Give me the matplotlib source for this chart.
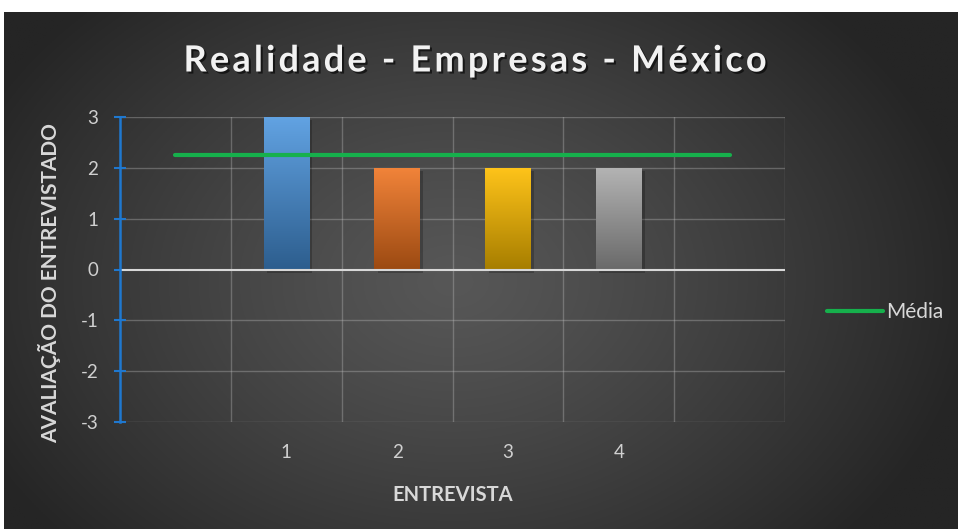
import numpy as np
import matplotlib
matplotlib.use("Agg")
import matplotlib.pyplot as plt
import matplotlib.patheffects as pe
from matplotlib.colors import LinearSegmentedColormap
from matplotlib.font_manager import FontProperties
from matplotlib.path import Path
from matplotlib.textpath import text_to_path

# ---- data ----
categorias = ["", "1", "2", "3", "4", ""]
entrevistas = [1, 2, 3, 4]
avaliacoes = [3, 2, 2, 2]
media = [2.25, 2.25, 2.25, 2.25, 2.25, 2.25]
titulo = "Realidade - Empresas - México"
ylabel = "AVALIAÇÃO DO ENTREVISTADO"
xlabel = "ENTREVISTA"

bar_tops = ["#62a3e3", "#f2843a", "#ffc41a", "#b4b4b4"]
bar_bots = ["#2d5e8e", "#9c4a12", "#a77e00", "#6a6a6a"]

plt.rcParams['font.family'] = ['Lato', 'DejaVu Sans']
plt.rcParams['axes.unicode_minus'] = False

W, H = 958, 529
DPI = 100
fig = plt.figure(figsize=(W / DPI, H / DPI), dpi=DPI, facecolor="white")


class Tracking(pe.AbstractPathEffect):
    """Adds letter spacing to a text path, then applies inner effects."""

    def __init__(self, text, prop, spacing_px, inner):
        super().__init__()
        self.inner = inner
        self.ok = True
        try:
            font = text_to_path._get_font(prop)
            info, _, _ = text_to_path.get_glyphs_with_font(font, text)
            self.xpos = np.array([g[1] for g in info], dtype=float)
            fs_px = prop.get_size_in_points() * DPI / 72.0
            self.sp = spacing_px * text_to_path.FONT_SCALE / fs_px
        except Exception:
            self.ok = False

    def draw_path(self, renderer, gc, tpath, affine, rgbFace=None):
        path = tpath
        if self.ok and tpath.codes is not None:
            verts = tpath.vertices.copy()
            codes = tpath.codes
            starts = np.where(codes == Path.MOVETO)[0]
            ends = list(starts[1:]) + [len(codes)]
            n = len(self.xpos)
            for s, e in zip(starts, ends):
                cx = verts[s:e, 0].mean()
                idx = max(np.searchsorted(self.xpos, cx, side="right") - 1, 0)
                verts[s:e, 0] += idx * self.sp - (n - 1) * self.sp / 2
            path = Path(verts, codes)
        for eff in self.inner:
            eff.draw_path(renderer, gc, path, affine, rgbFace)


# background radial gradient
bg = fig.add_axes([4 / W, 0, (W - 4) / W, (H - 12) / H])
bg.set_axis_off()
ny, nx = 300, 540
yy, xx = np.mgrid[0:ny, 0:nx]
cx, cy = nx * 0.47, ny * 0.52
d = np.sqrt(((xx - cx) / (nx * 0.55)) ** 2 + ((yy - cy) / (ny * 0.75)) ** 2)
d = np.clip(d, 0, 1)
c0, c1 = 0x57 / 255, 0x25 / 255
img = c0 + (c1 - c0) * d ** 1.2
bg.imshow(np.dstack([img, img, img]), aspect="auto", extent=[0, 1, 0, 1])
bg.set_xlim(0, 1); bg.set_ylim(0, 1)

ax = fig.add_axes([120 / W, 107 / H, 665 / W, 305 / H])
ax.set_facecolor("none")
ax.set_xlim(-0.5, 5.5)
ax.set_ylim(-3, 3)

grid_c = (0.75, 0.75, 0.75, 0.35)
for y in range(-3, 4):
    if y != 0:
        ax.axhline(y, color=grid_c, lw=1, zorder=1)
for x in np.arange(-0.5, 5.6, 1):
    if x > -0.5:
        ax.axvline(x, color=grid_c, lw=1, zorder=1)

bars = ax.bar(entrevistas, avaliacoes, width=0.41, zorder=3, color="none")
for b, t, bt in zip(bars, bar_tops, bar_bots):
    x0, y0 = b.get_x(), b.get_y()
    w, h = b.get_width(), b.get_height()
    ax.add_patch(plt.Rectangle((x0 + 0.03, y0 - 0.06), w, h, color="black", alpha=0.22, zorder=2, lw=0))
    cmap = LinearSegmentedColormap.from_list("g", [bt, t])
    grad = np.linspace(0, 1, 256).reshape(-1, 1)
    im = ax.imshow(grad, cmap=cmap, aspect="auto", extent=[x0, x0 + w, y0, y0 + h],
                   origin="lower", zorder=3)
    im.set_clip_path(b)

ax.axhline(0, color="#d8d8d8", lw=1.5, zorder=4)
ax.plot(range(len(categorias)), media, color="#16b04c", lw=3, solid_capstyle="round",
        zorder=5, label="Média")

for s in ["top", "right", "bottom"]:
    ax.spines[s].set_visible(False)
ax.spines["left"].set_color("#1f78cf")
ax.spines["left"].set_linewidth(1.8)
ax.spines["left"].set_zorder(6)
ax.set_xlim(-0.5, 5.5)
ax.set_ylim(-3, 3)

ax.set_yticks(range(-3, 4))
ax.tick_params(axis="y", direction="inout", length=9, width=1.5, color="#1f78cf",
               labelcolor="#d0d0d0", labelsize=13.5, pad=11)
ax.set_xticks(range(len(categorias)))
ax.set_xticklabels(categorias)
ax.tick_params(axis="x", length=0, labelcolor="#d0d0d0", labelsize=13.5, pad=16)

ax.set_xlabel(xlabel, color="#d8d8d8", fontsize=14.5, fontweight="bold", labelpad=17)
ax.set_ylabel(ylabel, color="#d8d8d8", fontsize=15, fontweight="bold", va="center")
ax.yaxis.set_label_coords((50 - 120) / 665, (H - 283 - 107) / 305)

tprop = FontProperties(family=["Lato", "DejaVu Sans"], weight="bold", size=26)
fig.text(475 / W, 1 - 61 / H, titulo, ha="center", va="center", color="#f2f2f2",
         fontproperties=tprop,
         path_effects=[Tracking(titulo, tprop, 3.2,
                                [pe.SimplePatchShadow(offset=(1.5, -1.5), shadow_rgbFace="black", alpha=0.6),
                                 pe.Normal()])])

leg = ax.legend(loc="center left", bbox_to_anchor=(808 / W, 1 - 312 / H),
                bbox_transform=fig.transFigure, frameon=False, fontsize=15,
                handlelength=2.7, handletextpad=0.15, labelcolor="#d8d8d8")

fig.savefig("out.png", dpi=DPI, facecolor="white")
